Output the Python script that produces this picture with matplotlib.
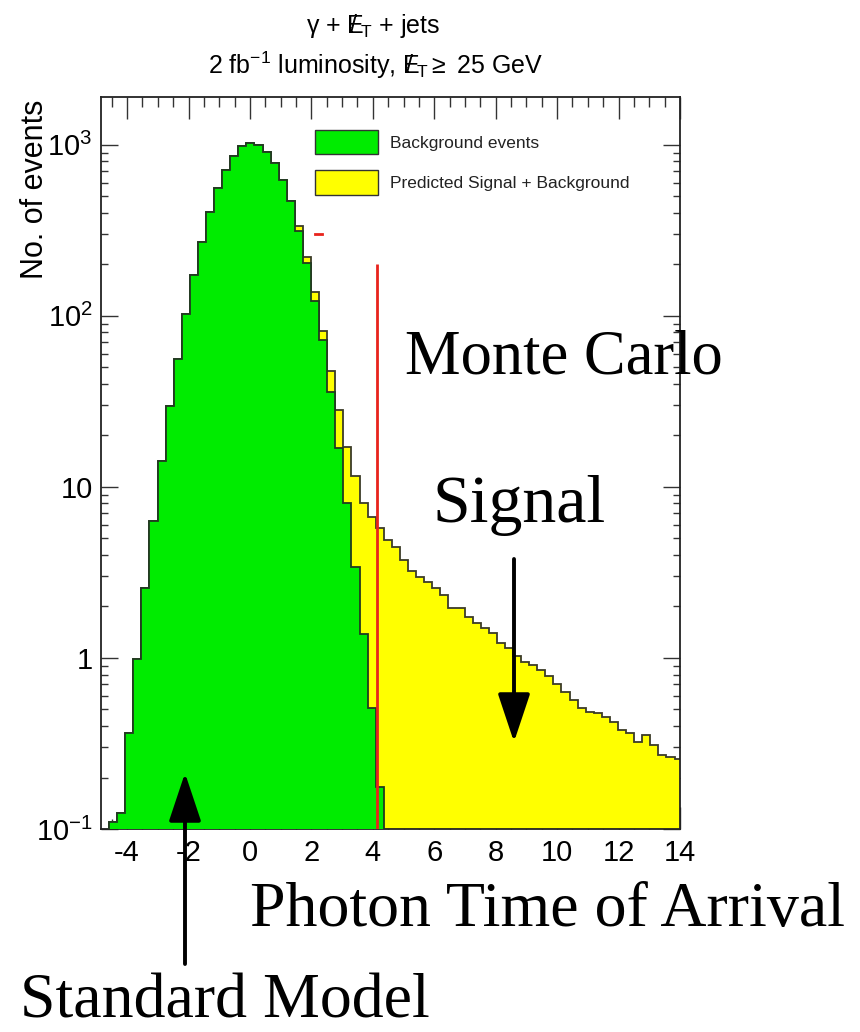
import numpy as np
import matplotlib
matplotlib.use("Agg")
import matplotlib.pyplot as plt
from matplotlib.patches import Patch
from matplotlib.lines import Line2D
from matplotlib.ticker import MultipleLocator, LogLocator, NullFormatter

# ---------------- data ----------------
bin_start = -4.85
bin_width = 0.263

background = [
    0.05, 0.11, 0.124, 0.364, 0.99, 2.57, 6.3, 14.1, 29.5, 55.8,
    102, 172, 270, 404, 558, 714, 863, 977, 1021, 1000,
    902, 781, 624, 471, 314, 204, 122, 72, 36, 16.8,
    8.0, 3.4, 1.38, 0.51, 0.176, 0.01, 0.01, 0.01, 0.01, 0.01,
    0.01, 0.01, 0.01, 0.01, 0.01, 0.01, 0.01, 0.01, 0.01, 0.01,
    0.01, 0.01, 0.01, 0.01, 0.01, 0.01, 0.01, 0.01, 0.01, 0.01,
    0.01, 0.01, 0.01, 0.01, 0.01, 0.01, 0.01, 0.01, 0.01, 0.01,
    0.01, 0.01,
]

signal_plus_background = [
    0.05, 0.11, 0.124, 0.364, 0.99, 2.57, 6.3, 14.1, 29.5, 55.8,
    102, 172, 270, 404, 558, 714, 863, 977, 1021, 1000,
    902, 781, 624, 471, 333, 220, 137, 81.7, 47.6, 28.2,
    17.0, 11.5, 8.04, 6.70, 5.73, 4.90, 4.48, 3.74, 3.24, 2.96,
    2.79, 2.56, 2.34, 1.95, 1.95, 1.74, 1.60, 1.49, 1.39, 1.22,
    1.14, 1.02, 0.95, 0.91, 0.85, 0.78, 0.70, 0.635, 0.568, 0.508,
    0.486, 0.474, 0.454, 0.424, 0.379, 0.363, 0.324, 0.355, 0.310, 0.271,
    0.262, 0.258,
]

x_ticks = [-4, -2, 0, 2, 4, 6, 8, 10, 12, 14]
y_ticks = [0.1, 1, 10, 100, 1000]
y_tick_labels = [r"$10^{-1}$", "1", "10", r"$10^{2}$", r"$10^{3}$"]

cut_time = 4.15
cut_height = 200

legend_labels = ["Background events", "Predicted Signal + Background"]

# ---------------- style ----------------
plt.rcParams["font.family"] = ["Liberation Sans", "DejaVu Sans"]
plt.rcParams["mathtext.fontset"] = "custom"
plt.rcParams["mathtext.rm"] = "Liberation Sans"
plt.rcParams["mathtext.it"] = "Liberation Sans:italic"
plt.rcParams["mathtext.bf"] = "Liberation Sans:bold"

GREEN = "#00ec00"
YELLOW = "#ffff00"
RED = "#e8231c"

W, H = 860, 1032
fig = plt.figure(figsize=(W / 100, H / 100), dpi=100)


def fx(px):
    return px / W


def fy(py):
    return 1 - py / H


ax = fig.add_axes([fx(101), fy(829), fx(680) - fx(101), fy(97) - fy(829)])

edges = bin_start + bin_width * np.arange(len(background) + 1)

ax.stairs(signal_plus_background, edges, baseline=1e-3, fill=True,
          facecolor=YELLOW, edgecolor="#3b3b28", linewidth=1.3, zorder=2)
ax.stairs(background, edges, baseline=1e-3, fill=True,
          facecolor=GREEN, edgecolor="#213a21", linewidth=1.3, zorder=3)
ax.vlines(cut_time, 0.1, cut_height, color=RED, lw=2.0, zorder=4)

ax.set_yscale("log")
ax.set_xlim(-4.85, 14)
ax.set_ylim(0.1, 1900)

ax.set_xticks(x_ticks)
ax.set_xticklabels([str(t) for t in x_ticks])
ax.xaxis.set_minor_locator(MultipleLocator(0.5))
ax.set_yticks(y_ticks)
ax.set_yticklabels(y_tick_labels)
ax.yaxis.set_minor_locator(LogLocator(base=10, subs=np.arange(2, 10)))
ax.yaxis.set_minor_formatter(NullFormatter())

ax.tick_params(which="both", direction="in", top=True, right=True,
               labelsize=21, colors="#333333", labelcolor="black", width=1.0)
ax.tick_params(axis="x", which="major", length=16, pad=7)
ax.tick_params(axis="x", which="minor", length=7)
ax.tick_params(axis="y", which="major", length=12, pad=6)
ax.tick_params(axis="y", which="minor", length=5)
for s in ax.spines.values():
    s.set_linewidth(1.3)
    s.set_color("#222222")

ax.set_ylabel("No. of events", fontsize=22, loc="top")
ax.yaxis.set_label_coords(-0.088, 0.996)

# legend
handles = [Patch(facecolor=GREEN, edgecolor="#333333", linewidth=1.0),
           Patch(facecolor=YELLOW, edgecolor="#333333", linewidth=1.0)]
fs = 12.5
fpx = fs * 100 / 72
leg = fig.legend(handles, legend_labels, loc="upper left",
                 bbox_to_anchor=(fx(315), fy(130)), frameon=False,
                 fontsize=fs, borderpad=0, borderaxespad=0,
                 handlelength=63 / fpx, handleheight=31 / fpx,
                 labelspacing=16 / fpx, handletextpad=12 / fpx)
for t in leg.get_texts():
    t.set_color("#222222")
fig.add_artist(Line2D([fx(315), fx(322)], [fy(234), fy(234)], color=RED, lw=2))

# title
fig.text(fx(373), fy(33), r"γ + $\mathrm{E}\!\!\!\!/\,{}_{\mathrm{T}}$ + jets",
         ha="center", va="baseline", fontsize=18)
fig.text(fx(376), fy(74),
         r"2 fb$^{-1}$ luminosity, $\mathrm{E}\!\!\!\!/\,{}_{\mathrm{T}}\geq$ 25 GeV",
         ha="center", va="baseline", fontsize=18)

# annotations
serif = ["Liberation Serif", "DejaVu Serif"]
fig.text(fx(405), fy(373), "Monte Carlo", family=serif, fontsize=45, va="baseline")
fig.text(fx(433), fy(522), "Signal", family=serif, fontsize=49, va="baseline")
fig.text(fx(250), fy(926), "Photon Time of Arrival", family=serif, fontsize=46, va="baseline")
fig.text(fx(20), fy(1031), "Standard Model", family=serif, fontsize=46, va="bottom")

arrow_style = "-|>,head_length=3.0,head_width=1.0"
ax.annotate("", xy=(fx(514), fy(742)), xytext=(fx(514), fy(559)),
            xycoords="figure fraction", textcoords="figure fraction",
            arrowprops=dict(arrowstyle=arrow_style, mutation_scale=10, lw=2.8,
                            color="black", shrinkA=0, shrinkB=0),
            annotation_clip=False, zorder=6)
ax.annotate("", xy=(fx(185), fy(773)), xytext=(fx(185), fy(964)),
            xycoords="figure fraction", textcoords="figure fraction",
            arrowprops=dict(arrowstyle=arrow_style, mutation_scale=10, lw=2.8,
                            color="black", shrinkA=0, shrinkB=0),
            annotation_clip=False, zorder=6)

fig.savefig("out.png", dpi=100)
